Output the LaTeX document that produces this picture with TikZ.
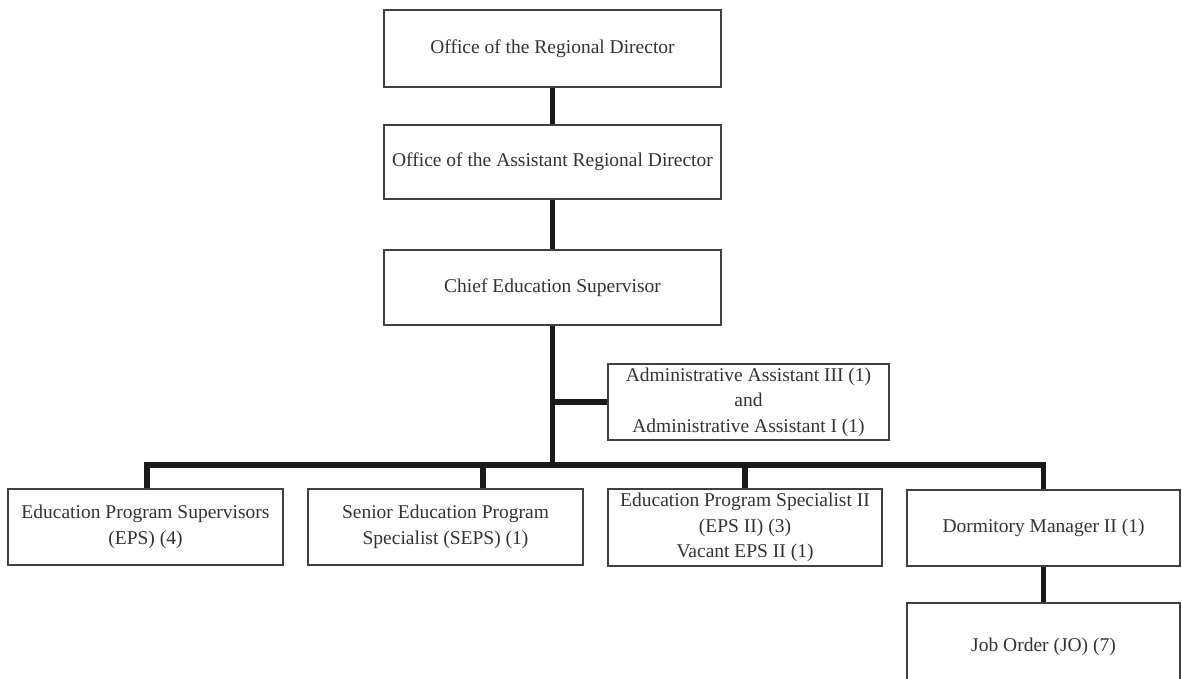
\documentclass[tikz,border=0pt]{standalone}
\usepackage{fontspec}
\setmainfont{Liberation Serif}
\begin{document}
\begin{tikzpicture}[x=1pt,y=-1pt,
  box/.style={draw=black!75, line width=1.1pt, rectangle, inner sep=0pt, align=center,
    text=black!80, font=\fontsize{19.5}{25.5}\selectfont},
  conn/.style={draw=black!90, line width=5.5pt}]
\useasboundingbox[fill=white] (0,0) rectangle (1182,678);
\clip (0,0) rectangle (1182,678);
\node[box, minimum width=337pt, minimum height=77pt] (rd) at (552.5,48.5) {Office of the Regional Director};
\node[box, minimum width=337pt, minimum height=74pt] (ard) at (552.5,162) {Office of the Assistant Regional Director};
\node[box, minimum width=337pt, minimum height=75pt] (ces) at (552.5,287.5) {Chief Education Supervisor};
\node[box, minimum width=281pt, minimum height=76pt] (adm) at (748.5,402) {Administrative Assistant III (1)\\and\\Administrative Assistant I (1)};
\node[box, minimum width=275pt, minimum height=76pt] (eps) at (145.5,527) {Education Program Supervisors\\(EPS) (4)};
\node[box, minimum width=275pt, minimum height=76pt] (seps) at (445.5,527) {Senior Education Program\\Specialist (SEPS) (1)};
\node[box, minimum width=274pt, minimum height=77pt] (eps2) at (745,527.5) {Education Program Specialist II\\(EPS II) (3)\\Vacant EPS II (1)};
\node[box, minimum width=273pt, minimum height=76pt] (dorm) at (1043.5,528) {Dormitory Manager II (1)};
\node[box, minimum width=273pt, minimum height=100pt, text depth=0pt] (jo) at (1043.5,653) {\raisebox{17pt}{Job Order (JO) (7)}};
\coordinate (bus) at (552.5,465);
\coordinate (admj) at (552.5,402);
\coordinate (busL) at (147,465);
\coordinate (busR) at (1043.5,465);
\coordinate (sepsT) at (483,465);
\draw[conn] (rd.south) -- (ard.north);
\draw[conn] (ard.south) -- (ces.north);
\draw[conn] (ces.south) -- (bus);
\draw[conn] (admj) -- (adm.west);
\draw[conn] (busL |- eps.north) -- (busL) -- (busR) -- (dorm.north);
\draw[conn] (sepsT) -- (sepsT |- seps.north);
\draw[conn] (bus -| eps2.north) -- (eps2.north);
\draw[conn] (dorm.south) -- (jo.north);
\end{tikzpicture}
\end{document}
